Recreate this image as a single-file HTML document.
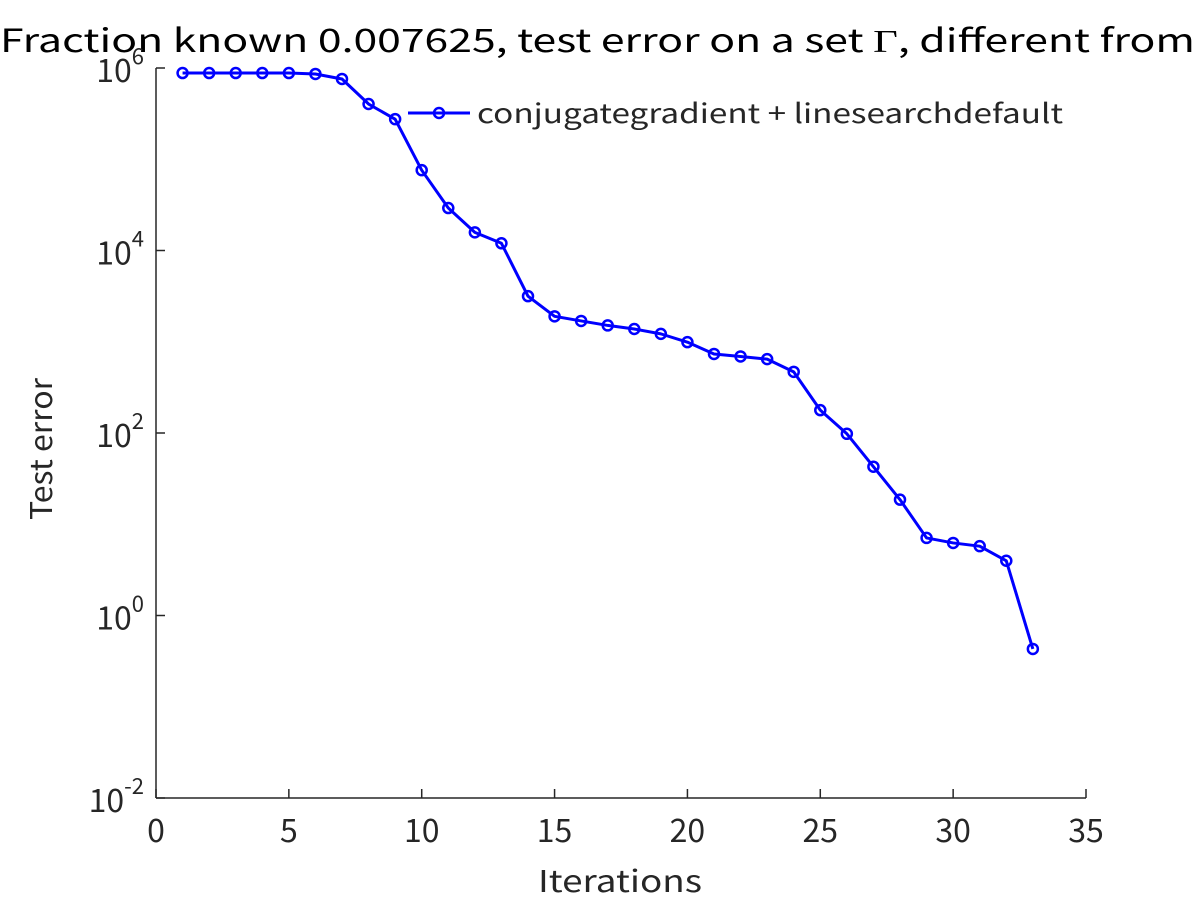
<!DOCTYPE html>
<html><head><meta charset="utf-8"><style>
body{margin:0;background:#fff;overflow:hidden}
svg{display:block;font-family:"Noto Sans CJK JP","Liberation Sans",sans-serif}
</style></head><body>
<svg id="chart" width="1200" height="900" viewBox="0 0 1200 900">
<text x="0" y="52" font-size="32" textLength="1195" lengthAdjust="spacingAndGlyphs" fill="#000">Fraction known 0.007625, test error on a set  <tspan font-family="Liberation Serif, serif">Γ</tspan>, different from</text>
<g id="axes"></g>
<g id="series"></g>
<g>
<line x1="408" y1="113" x2="470" y2="113" stroke="#0000ff" stroke-width="3"/>
<circle cx="439" cy="113" r="5" fill="none" stroke="#0000ff" stroke-width="2.5"/>
<text x="477" y="123" font-size="27" textLength="586" lengthAdjust="spacingAndGlyphs" fill="#262626">conjugategradient + linesearchdefault</text>
</g>
<text x="538" y="892" font-size="30" textLength="164" lengthAdjust="spacingAndGlyphs" fill="#262626">Iterations</text>
<text transform="translate(52,520) rotate(-90)" font-size="30" textLength="142" lengthAdjust="spacingAndGlyphs" fill="#262626">Test error</text>
</svg>
<script>
const iterations=[1,2,3,4,5,6,7,8,9,10,11,12,13,14,15,16,17,18,19,20,21,22,23,24,25,26,27,28,29,30,31,32,33];
const testError=[881000,881000,881000,881000,881000,860000,758000,403000,275000,75900,29200,15800,12000,3160,1900,1690,1510,1380,1220,990,735,690,645,468,178,98,42.7,18.6,7.08,6.24,5.75,3.98,0.43];
const xTicks=[0,5,10,15,20,25,30,35];
const yTickExps=[-2,0,2,4,6];
const NS="http://www.w3.org/2000/svg";
const X0=156,X1=1086,Y0=798,Y1=68;
const xs=v=>X0+(v-0)/35*(X1-X0);
const ys=v=>Y0-(Math.log10(v)+2)/8*(Y0-Y1);
function mk(t,a,p){const e=document.createElementNS(NS,t);for(const k in a)e.setAttribute(k,a[k]);p.appendChild(e);return e;}
const ax=document.getElementById('axes');
let l=mk('line',{x1:X0,y1:Y0,x2:X1,y2:Y0,stroke:'#262626','stroke-width':1.5},ax);


l=mk('line',{x1:X0,y1:Y0,x2:X0,y2:Y1,stroke:'#262626','stroke-width':1.5},ax);


xTicks.forEach(t=>{const x=xs(t);
 const tk=mk('line',{x1:x,y1:Y0,x2:x,y2:Y0-9,stroke:'#262626','stroke-width':1.5},ax);
 
 
 const tx=mk('text',{x:x,y:Y0+44,'font-size':32,'text-anchor':'middle',fill:'#262626'},ax);tx.textContent=t;
 
 });
yTickExps.forEach(e=>{const y=ys(Math.pow(10,e));
 const tk=mk('line',{x1:X0,y1:y,x2:X0+9,y2:y,stroke:'#262626','stroke-width':1.5},ax);
 
 
 const tx=mk('text',{x:X0-12,y:y+14,'font-size':32,'text-anchor':'end',fill:'#262626'},ax);
 tx.innerHTML='10<tspan dy="-18" font-size="22">'+e+'</tspan>';
 
 });
const sg=document.getElementById('series');
const pts=iterations.map((v,i)=>xs(v)+','+ys(testError[i])).join(' ');
const pl=mk('polyline',{points:pts,fill:'none',stroke:'#0000ff','stroke-width':3,'stroke-linejoin':'round'},sg);


iterations.forEach((v,i)=>{const c=mk('circle',{cx:xs(v),cy:ys(testError[i]),r:5,fill:'none',stroke:'#0000ff','stroke-width':2.5},sg);
 
 });
</script>
</body></html>
